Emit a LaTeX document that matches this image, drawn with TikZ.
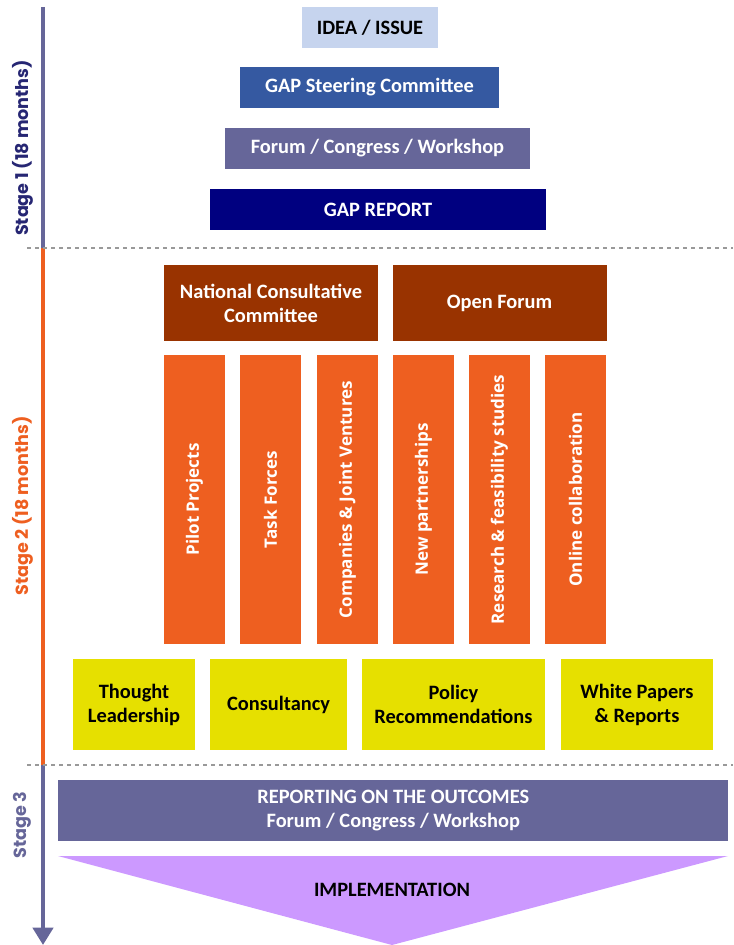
\documentclass[tikz,border=0pt]{standalone}
\usepackage{fontspec}
\setmainfont{Carlito}
\newfontfamily\barfont{Open Sans}
\newfontfamily\stagefont{Poppins}
\usetikzlibrary{arrows.meta}

\definecolor{ideablue}{HTML}{C6D4EE}
\definecolor{steerblue}{HTML}{3559A1}
\definecolor{forumgrey}{HTML}{666699}
\definecolor{reportnavy}{HTML}{000080}
\definecolor{natbrown}{HTML}{993300}
\definecolor{barorange}{HTML}{EE5F20}
\definecolor{outyellow}{HTML}{E6E000}
\definecolor{implviolet}{HTML}{CC99FF}
\definecolor{stageone}{HTML}{262673}

\begin{document}
\begin{tikzpicture}[x=0.75pt, y=-0.75pt,
	every node/.style={inner sep=0pt, align=center, font=\bfseries\fontsize{15.3}{18}\selectfont},
	box/.style={rectangle, minimum height=30.75pt, text=white},
	bar/.style={rectangle, fill=barorange, minimum width=45.75pt, minimum height=216.75pt},
	bartext/.style={rotate=90, text=white, font=\barfont\bfseries\fontsize{12.8}{15}\selectfont},
	outbox/.style={rectangle, fill=outyellow, minimum height=68.25pt},
	stagetext/.style={rotate=90, font=\stagefont\bfseries\fontsize{13.2}{15}\selectfont},
	divider/.style={gray!80, dashed, line width=0.9pt}]
	\useasboundingbox (0,0) rectangle (733,945);
	%Timeline
	\coordinate (s1top) at (43,7);
	\coordinate (s1end) at (43,248);
	\coordinate (s2end) at (43,765);
	\coordinate (s3end) at (43,945);
	\draw[forumgrey, line width=3.4pt] (s1top) -- (s1end);
	\draw[barorange, line width=3.4pt] (s1end) -- (s2end);
	\draw[forumgrey, line width=3.4pt, -{Triangle[width=15pt, length=13pt]}] (s2end) -- (s3end);
	\coordinate (d1l) at (27,248);
	\coordinate (d1r) at (733,248);
	\coordinate (d2l) at (27,765);
	\coordinate (d2r) at (733,765);
	\draw[divider] (d1l) -- (d1r);
	\draw[divider] (d2l) -- (d2r);
	\node[stagetext, text=stageone] (stage1) at (23,148) {Stage 1 (18 months)};
	\node[stagetext, text=barorange] (stage2) at (23,506) {Stage 2 (18 months)};
	\node[stagetext, text=forumgrey] (stage3) at (22,825) {Stage 3};
	%Stage 1
	\node[box, fill=ideablue, text=black, minimum width=102pt] (idea) at (370,27.5) {IDEA / ISSUE};
	\node[box, fill=steerblue, minimum width=194.25pt] (steering) at (369.5,87.5) {GAP Steering Committee};
	\node[box, fill=forumgrey, minimum width=228.75pt] (forum) at (377.5,148.5) {Forum / Congress / Workshop};
	\node[box, fill=reportnavy, minimum width=252pt] (report) at (378,209.5) {GAP REPORT};
	%Stage 2
	\node[box, fill=natbrown, minimum width=160.5pt, minimum height=57pt] (national) at (271,303) {National Consultative\\Committee};
	\node[box, fill=natbrown, minimum width=160.5pt, minimum height=57pt] (open) at (499.5,303) {Open Forum};
	\node[bar] (pilot) at (194.5,499.5) {};
	\node[bar] (task) at (270.5,499.5) {};
	\node[bar] (companies) at (347.5,499.5) {};
	\node[bar] (partner) at (423.5,499.5) {};
	\node[bar] (research) at (499.5,499.5) {};
	\node[bar] (online) at (575.5,499.5) {};
	\node[bartext] at (pilot) {Pilot Projects};
	\node[bartext] at (task) {Task Forces};
	\node[bartext] at (companies) {Companies \& Joint Ventures};
	\node[bartext] at (partner) {New partnerships};
	\node[bartext] at (research) {Research \& feasibility studies};
	\node[bartext] at (online) {Online collaboration};
	\node[outbox, minimum width=91.5pt] (thought) at (134,704.5) {Thought\\Leadership};
	\node[outbox, minimum width=102.75pt] (consult) at (278.5,704.5) {Consultancy};
	\node[outbox, minimum width=137.25pt] (policy) at (453.5,704.5) {Policy\\Recommendations};
	\node[outbox, minimum width=114pt] (papers) at (637,704.5) {White Papers\\\& Reports};
	%Stage 3
	\node[box, fill=forumgrey, minimum width=502.5pt, minimum height=45.75pt] (outcomes) at (393.3,810.5) {REPORTING ON THE OUTCOMES\\Forum / Congress / Workshop};
	\fill[implviolet] (58,856) -- (728,856) -- (392,945) -- cycle;
	\node (impl) at (392,890) {IMPLEMENTATION};
\end{tikzpicture}
\end{document}
